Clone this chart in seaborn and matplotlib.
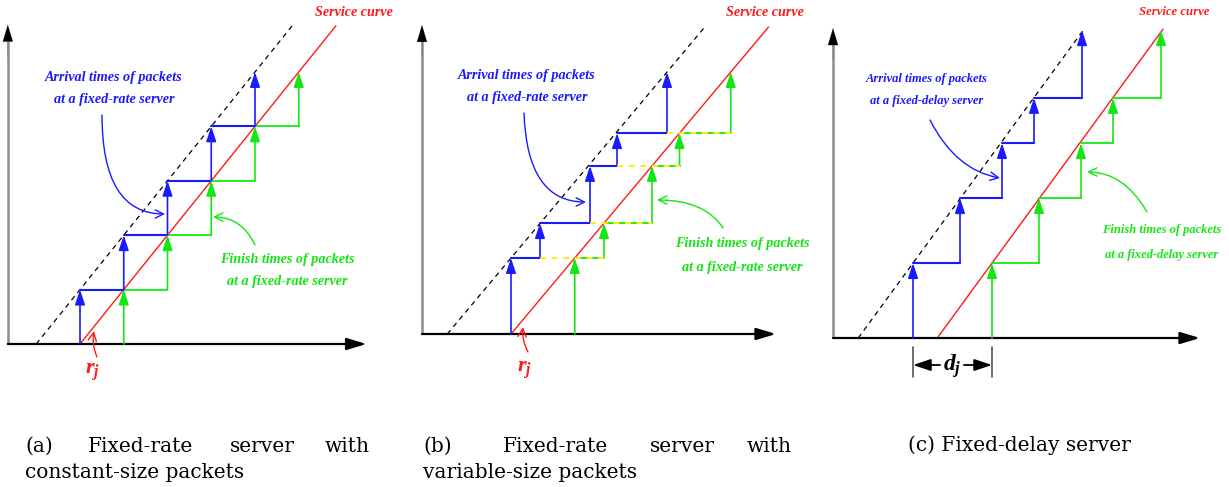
import numpy as np
import pandas as pd
import matplotlib
matplotlib.use("Agg")
import matplotlib.pyplot as plt
import seaborn as sns

# ---------------- data ----------------
# (a) fixed-rate server, constant-size packets
arrivals_a = [0.0, 1.0, 2.0, 3.0, 4.0]
sizes_a = [1.0, 1.0, 1.0, 1.0, 1.0]
# (b) fixed-rate server, variable-size packets
arrivals_b = [0.0, 1.16, 3.16, 4.24, 6.24]
sizes_b = [2.55, 1.17, 1.92, 1.10, 2.05]
# (c) fixed-delay server
arrivals_c = [0.0, 1.88, 3.56, 4.84, 6.76]
sizes_c = [2.19, 1.90, 1.61, 1.32, 1.98]
delay_c = 3.16
service_rate = 1.0
curve_top = [5.85, 10.3, 9.03]

service_label = "Service curve"
arrival_labels = [("Arrival times of packets", "at a fixed-rate server"),
                  ("Arrival times of packets", "at a fixed-rate server"),
                  ("Arrival times of packets", "at a fixed-delay server")]
finish_labels = [("Finish times of packets", "at a fixed-rate server"),
                 ("Finish times of packets", "at a fixed-rate server"),
                 ("Finish times of packets", "at a fixed-delay server")]
caption_a = (["(a)", "Fixed-rate", "server", "with"], "constant-size packets")
caption_b = (["(b)", "Fixed-rate", "server", "with"], "variable-size packets")
caption_c = "(c) Fixed-delay server"

# ---------------- layout / style ----------------
W, H = 1229, 487
panel_origin_px = [(80, 344), (511, 334), (913, 338)]
panel_unit_px = [(43.75, 54.4), (25.0, 29.8), (25.0, 34.2)]
axis_extent = [(-1.65, 6.55, 5.87), (-3.56, 10.6, 10.37), (-3.2, 11.48, 9.06)]

BLUE = "#1a1aff"
GREEN = "#14e614"
RED = "#ff1a1a"
YELLOW = "#ffee00"

sns.set_theme(style="white")
plt.rcParams["font.family"] = ["Liberation Serif", "DejaVu Serif"]
plt.rcParams["mathtext.fontset"] = "custom"
plt.rcParams["mathtext.it"] = "Liberation Serif:bold:italic"
plt.rcParams["mathtext.rm"] = "Liberation Serif:bold"


def fixed_rate_finish(arr, sizes, rate):
    out, prev = [], -np.inf
    for a, s in zip(arr, sizes):
        prev = max(a, prev) + s / rate
        out.append(prev)
    return out


finish_a = fixed_rate_finish(arrivals_a, sizes_a, service_rate)
finish_b = fixed_rate_finish(arrivals_b, sizes_b, service_rate)
finish_c = [a + delay_c for a in arrivals_c]

fig = plt.figure(figsize=(W / 100, H / 100), dpi=100)


def panel_axes(k):
    ox, oy = panel_origin_px[k]
    ux, uy = panel_unit_px[k]
    ax = fig.add_axes([0, 0, 1, 1], label=f"panel{k}")
    ax.set_xlim(-ox / ux, (W - ox) / ux)
    ax.set_ylim((oy - H) / uy, oy / uy)
    ax.axis("off")
    ax.patch.set_alpha(0)
    return ax


def varrow(ax, x, y0, y1, color):
    ax.annotate("", xy=(x, y1), xytext=(x, y0),
                arrowprops=dict(arrowstyle="-|>,head_length=0.75,head_width=0.25",
                                color=color, lw=1.2, shrinkA=0, shrinkB=0))


def draw_panel(k, arrivals, sizes, finish, yellow=False):
    ax = panel_axes(k)
    xmin, xmax, ymax = axis_extent[k]
    top = curve_top[k]
    levels = np.cumsum(sizes)
    prev = np.concatenate([[0.0], levels[:-1]])
    # axes with arrows
    ax.plot([xmin, xmin], [0, ymax - 0.3], color="#8c8c8c", lw=1.8, solid_capstyle="butt")
    ax.annotate("", xy=(xmin, ymax), xytext=(xmin, ymax * 0.9),
                arrowprops=dict(arrowstyle="-|>,head_length=1.0,head_width=0.3",
                                color="black", lw=0.1, shrinkA=0, shrinkB=0))
    ax.annotate("", xy=(xmax, 0), xytext=(xmin, 0),
                arrowprops=dict(arrowstyle="-|>,head_length=1.0,head_width=0.3",
                                color="black", lw=1.6, shrinkA=0, shrinkB=0))
    # arrival envelope (dashed) and service curve (red)
    t0 = arrivals[0] - sizes[0]
    env = pd.DataFrame({"t": [t0, t0 + top / service_rate], "L": [0, top]})
    sns.lineplot(data=env, x="t", y="L", ax=ax, color="black", lw=0.9,
                 linestyle=(0, (4, 3.5)), sort=False, estimator=None, legend=False)
    shift = finish[0] - arrivals[0]
    srv = pd.DataFrame({"t": env["t"] + shift, "L": env["L"]})
    sns.lineplot(data=srv, x="t", y="L", ax=ax, color=RED, lw=1.0,
                 sort=False, estimator=None, legend=False)
    n = len(arrivals)
    # blue arrival staircase
    for i in range(n):
        varrow(ax, arrivals[i], prev[i], levels[i], BLUE)
        if i < n - 1:
            ax.plot([arrivals[i], arrivals[i + 1]], [levels[i], levels[i]], color=BLUE, lw=1.5)
    # green finish staircase
    for i in range(n):
        varrow(ax, finish[i], prev[i], levels[i], GREEN)
        if i < n - 1:
            ax.plot([finish[i], finish[i + 1]], [levels[i], levels[i]], color=GREEN, lw=1.3)
    if yellow:
        for i in range(n - 1):
            ax.plot([arrivals[i + 1], finish[i + 1]], [levels[i], levels[i]], color=YELLOW,
                    lw=1.4, linestyle=(0, (3, 3)), zorder=5)
    return ax


draw_panel(0, arrivals_a, sizes_a, finish_a)
draw_panel(1, arrivals_b, sizes_b, finish_b, yellow=True)
draw_panel(2, arrivals_c, sizes_c, finish_c)

# ---------------- overlay for labels (pixel coordinates) ----------------
ov = fig.add_axes([0, 0, 1, 1], label="overlay")
ov.set_xlim(0, W)
ov.set_ylim(H, 0)
ov.axis("off")
ov.patch.set_alpha(0)

lab = dict(fontweight="bold", fontstyle="italic", ha="center", va="center")
service_pos = [(354, 12, 10.2), (765, 12, 10.2), (1174, 12, 9.2)]
arrival_pos = [(114, 77, 100, 10.2), (527, 75, 97, 10.2), (927, 79, 101, 9.0)]
finish_pos = [(287, 260, 282, 10.2), (742, 243, 267, 10.2), (1162, 230, 255, 9.0)]
for k in range(3):
    x, y, fs = service_pos[k]
    ov.text(x, y, service_label, color=RED, fontsize=fs, **lab)
    x, y1, y2, fs = arrival_pos[k]
    ov.text(x, y1, arrival_labels[k][0], color=BLUE, fontsize=fs, **lab)
    ov.text(x, y2, arrival_labels[k][1], color=BLUE, fontsize=fs, **lab)
    x, y1, y2, fs = finish_pos[k]
    ov.text(x, y1, finish_labels[k][0], color=GREEN, fontsize=fs, **lab)
    ov.text(x, y2, finish_labels[k][1], color=GREEN, fontsize=fs, **lab)

pointer = "->,head_length=0.5,head_width=0.25"
pointers = [
    ((165, 214), (102, 115), BLUE, 90, 0),
    ((213, 217), (255, 245), GREEN, 115, 0),
    ((586, 202), (524, 113), BLUE, 92, 0),
    ((657, 200), (723, 228), GREEN, 123, 0),
    ((1000, 178), (930, 120), BLUE, -63, -10),
    ((1087, 172), (1147, 212), GREEN, 120, 0),
]
for xy, xyt, col, aA, aB in pointers:
    ov.annotate("", xy=xy, xytext=xyt,
                arrowprops=dict(arrowstyle=pointer, color=col, lw=1.0, shrinkA=0, shrinkB=0,
                                connectionstyle=f"angle3,angleA={aA},angleB={aB}"))

# r_j markers
for (tx, ty), (hx, hy), (lx, ly) in [((97, 357), (94, 331), (93, 372)),
                                     ((528, 352), (523, 327), (525, 370))]:
    ov.annotate("", xy=(hx, hy), xytext=(tx, ty),
                arrowprops=dict(arrowstyle=pointer, color=RED, lw=1.0, shrinkA=0, shrinkB=0,
                                connectionstyle="arc3,rad=-0.15"))
    ov.text(lx, ly, r"$r_j$", color=RED, fontsize=16, ha="center", va="center")

# d_j dimension
for x in (913, 992):
    ov.plot([x, x], [347, 377], color="#555555", lw=1.2)
dim = "-|>,head_length=0.9,head_width=0.3"
ov.annotate("", xy=(913, 365), xytext=(940, 365),
            arrowprops=dict(arrowstyle=dim, color="black", lw=1.3, shrinkA=0, shrinkB=0))
ov.annotate("", xy=(992, 365), xytext=(964, 365),
            arrowprops=dict(arrowstyle=dim, color="black", lw=1.3, shrinkA=0, shrinkB=0))
ov.text(952, 366, r"$d_j$", color="black", fontsize=17, ha="center", va="center")

# captions
cap = dict(family="DejaVu Serif", fontsize=14.5, color="black", va="baseline", ha="left")
for words, line2, xs, x2 in [(caption_a[0], caption_a[1], [25, 88, 230, 325], 25),
                             (caption_b[0], caption_b[1], [423, 503, 650, 747], 423)]:
    for w, x in zip(words, xs):
        ov.text(x, 452, w, **cap)
    ov.text(x2, 478, line2, **cap)
ov.text(908, 451, caption_c, **cap)

fig.savefig("out.png", dpi=100)
